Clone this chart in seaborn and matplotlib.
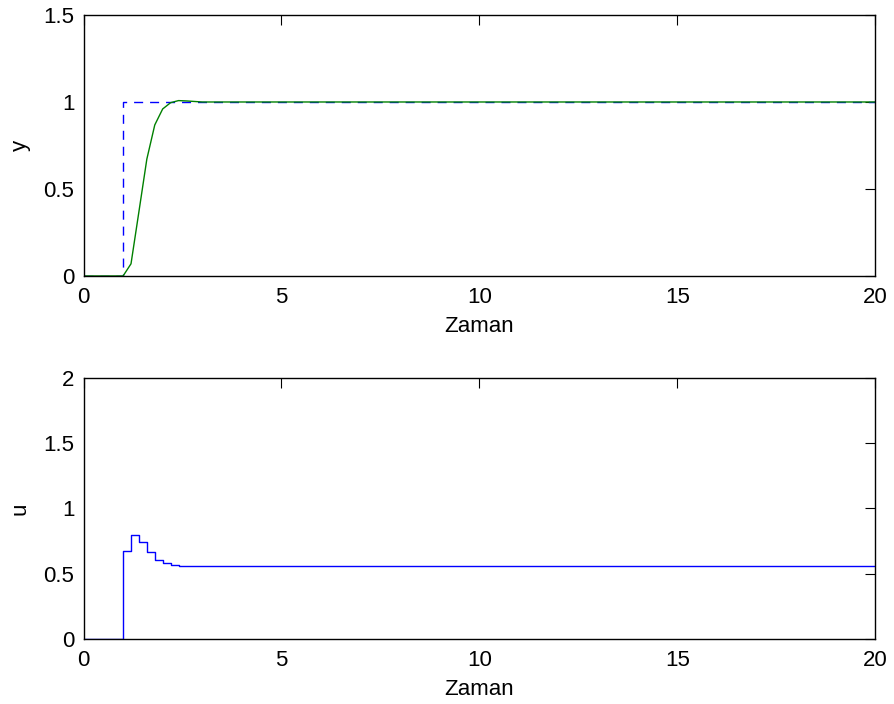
import matplotlib
matplotlib.use("Agg")
import matplotlib.pyplot as plt
import seaborn as sns
import pandas as pd

# Reference signal (step at t=1)
t_ref = [0.0, 1.0, 20.0]
r_ref = [0.0, 1.0, 1.0]

# Output response y (sampled, Ts = 0.2)
t_y = [0.0, 1.0, 1.2, 1.4, 1.6, 1.8, 2.0, 2.2, 2.4, 2.6, 2.8, 3.0, 20.0]
y_out = [0.0, 0.0, 0.07, 0.37, 0.672, 0.868, 0.96, 0.996, 1.008, 1.006, 1.003, 1.0, 1.0]

# Control signal u (zero-order hold)
t_u = [0.0, 1.0, 1.2, 1.4, 1.6, 1.8, 2.0, 2.2, 2.4, 20.0]
u_ctl = [0.0, 0.675, 0.80, 0.74, 0.665, 0.605, 0.578, 0.563, 0.556, 0.556]

xticks = [0, 5, 10, 15, 20]
yticks_top = [0, 0.5, 1, 1.5]
yticks_bot = [0, 0.5, 1, 1.5, 2]

sns.set_style("white")
plt.rcParams["font.family"] = ["Liberation Sans", "DejaVu Sans"]
plt.rcParams["font.size"] = 16

fig = plt.figure(figsize=(8.95, 7.04), dpi=100)
ax1 = fig.add_axes([0.0933, 0.608, 0.8847, 0.3707])
ax2 = fig.add_axes([0.0933, 0.0928, 0.8847, 0.3698])

df_ref = pd.DataFrame({"t": t_ref, "r": r_ref})
df_y = pd.DataFrame({"t": t_y, "y": y_out})
df_u = pd.DataFrame({"t": t_u, "u": u_ctl})

sns.lineplot(data=df_ref, x="t", y="r", ax=ax1, color=(0, 0, 1), lw=1.0,
             linestyle=(0, (6.5, 5)), drawstyle="steps-post", sort=False, estimator=None)
sns.lineplot(data=df_y, x="t", y="y", ax=ax1, color=(0, 0.5, 0), lw=1.0,
             sort=False, estimator=None)
sns.lineplot(data=df_u, x="t", y="u", ax=ax2, color=(0, 0, 1), lw=1.0,
             drawstyle="steps-post", sort=False, estimator=None)

def fmt(v):
    return str(int(v)) if float(v).is_integer() else str(v)

for ax, yt, yl in [(ax1, yticks_top, "y"), (ax2, yticks_bot, "u")]:
    ax.set_xlim(0, 20)
    ax.set_ylim(yt[0], yt[-1])
    ax.set_xticks(xticks)
    ax.set_xticklabels([fmt(v) for v in xticks])
    ax.set_yticks(yt)
    ax.set_yticklabels([fmt(v) for v in yt])
    ax.tick_params(direction="in", length=7, width=0.8, top=True, right=True,
                   labelsize=16, colors="black")
    ax.tick_params(axis="x", pad=8)
    ax.tick_params(axis="y", pad=6.5)
    for s in ax.spines.values():
        s.set_visible(True)
        s.set_color("black")
        s.set_linewidth(1.0)
    ax.set_xlabel("Zaman", fontsize=16, labelpad=6, color="black")
    ax.set_ylabel(yl, fontsize=16, labelpad=9, color="black")

fig.savefig("out.png", dpi=100)
